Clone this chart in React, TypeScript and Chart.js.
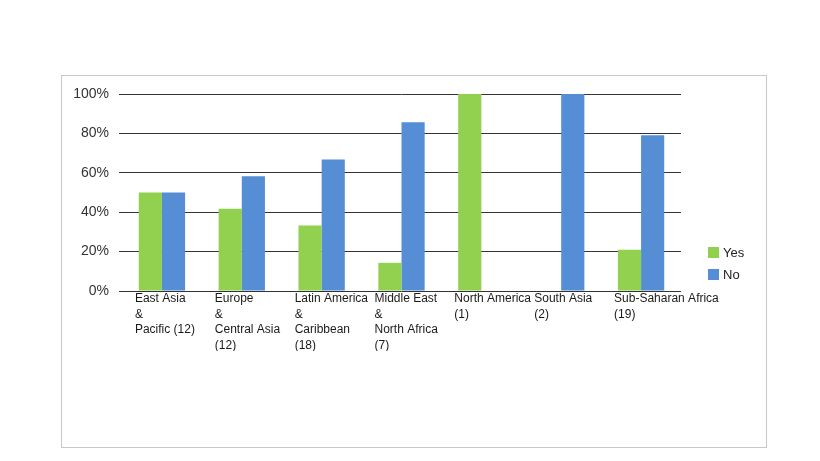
import React, { useEffect, useRef } from "react";
import { Chart, registerables } from "chart.js";

Chart.register(...registerables);

const categories: string[][] = [
  ["East Asia", "&", "Pacific (12)"],
  ["Europe", "&", "Central Asia", "(12)"],
  ["Latin America", "&", "Caribbean", "(18)"],
  ["Middle East", "&", "North Africa", "(7)"],
  ["North America", "(1)"],
  ["South Asia", "(2)"],
  ["Sub-Saharan Africa", "(19)"],
];
const yesValues = [50, 41.7, 33.3, 14.3, 100, 0, 21];
const noValues = [50, 58.3, 66.7, 85.7, 0, 100, 79];
const seriesNames = ["Yes", "No"];
const seriesColors = ["#92D050", "#558ED5"];
const yTicks = [0, 20, 40, 60, 80, 100];

export default function App() {
  const canvasRef = useRef<HTMLCanvasElement | null>(null);

  useEffect(() => {
    const ctx = canvasRef.current;
    if (!ctx) return;
    const chart = new Chart(ctx, {
      type: "bar",
      data: {
        labels: categories,
        datasets: [
          {
            label: seriesNames[0],
            data: yesValues,
            backgroundColor: seriesColors[0],
            categoryPercentage: 0.58,
            barPercentage: 1,
          },
          {
            label: seriesNames[1],
            data: noValues,
            backgroundColor: seriesColors[1],
            categoryPercentage: 0.58,
            barPercentage: 1,
          },
        ],
      },
      options: {
        animation: false,
        responsive: false,
        layout: { padding: { left: 61, right: 139, top: 94, bottom: 110 } },
        plugins: {
          legend: { display: false },
          tooltip: { enabled: false },
        },
        scales: {
          x: {
            grid: { display: false, drawTicks: false },
            border: { display: false },
            ticks: {
              autoSkip: false,
              maxRotation: 0,
              minRotation: 0,
              align: "start",
              labelOffset: -27,
              padding: 0,
              color: "#1a1a1a",
              font: { family: "'Liberation Sans', Arial, sans-serif", size: 12, lineHeight: 1.3 },
            },
            afterFit: (scale: any) => {
              scale.height = 60;
              scale.paddingLeft = 0;
              scale.paddingRight = 0;
            },
          },
          y: {
            min: 0,
            max: 100,
            afterBuildTicks: (scale: any) => {
              scale.ticks = yTicks.map((v) => ({ value: v }));
            },
            grid: { color: "#333", lineWidth: 1, tickLength: 3, drawTicks: true },
            border: { display: false },
            ticks: {
              padding: 10,
              color: "#333",
              font: { family: "'Liberation Sans', Arial, sans-serif", size: 14 },
              callback: (v: any) => v + "%",
            },
            afterFit: (scale: any) => {
              scale.width = 61;
            },
          },
        },
      },
    });
    return () => chart.destroy();
  }, []);

  const legendItem = (i: number, top: number) => (
    <div
      key={i}
      style={{
        position: "absolute",
        left: 708,
        top,
        display: "flex",
        alignItems: "center",
        fontFamily: "'Liberation Sans', Arial, sans-serif",
        fontSize: 13,
        color: "#222",
      }}
    >
      <div style={{ width: 11, height: 11, background: seriesColors[i], marginRight: 4 }} />
      <span>{seriesNames[i]}</span>
    </div>
  );

  return (
    <div style={{ position: "fixed", left: 0, top: 0, width: 820, height: 461, background: "#fff" }}>
      <div
        style={{
          position: "absolute",
          left: 61,
          top: 75,
          width: 704,
          height: 371,
          border: "1px solid #c8c8c8",
        }}
      />
      <canvas
        ref={canvasRef}
        width={820}
        height={461}
        style={{ position: "absolute", left: 0, top: 0, width: 820, height: 461 }}
      />
      {legendItem(0, 245)}
      {legendItem(1, 267)}
    </div>
  );
}
